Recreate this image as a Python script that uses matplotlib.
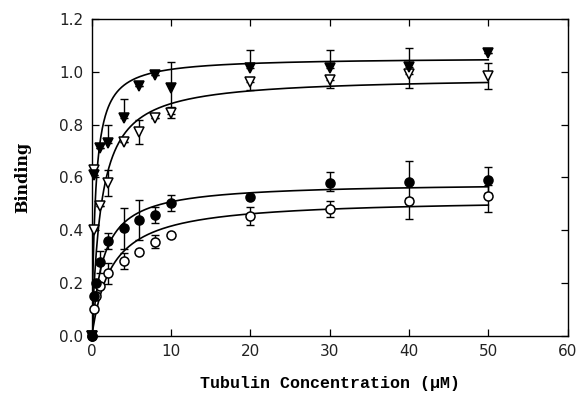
import numpy as np
import matplotlib
matplotlib.use("Agg")
import matplotlib.pyplot as plt

# ---- data ----
x_ft = [0, 0.25, 1, 2, 4, 6, 8, 10, 20, 30, 40, 50]
y_ft = [0, 0.61, 0.71, 0.73, 0.825, 0.946, 0.987, 0.939, 1.014, 1.014, 1.02, 1.07]
lo_ft = [0, 0, 0, 0, 0, 0, 0, 0.10, 0, 0, 0, 0]
hi_ft = [0, 0, 0, 0.07, 0.072, 0, 0, 0.10, 0.07, 0.07, 0.07, 0]

x_ot = [0, 0.25, 0.25, 1, 2, 4, 6, 8, 10, 20, 30, 40, 50]
y_ot = [0, 0.63, 0.40, 0.49, 0.58, 0.735, 0.773, 0.824, 0.845, 0.962, 0.97, 0.99, 0.985]
lo_ot = [0, 0, 0, 0, 0.05, 0, 0.045, 0, 0.02, 0.03, 0.03, 0.05, 0.05]
hi_ot = [0, 0, 0, 0, 0.05, 0, 0.045, 0, 0.02, 0, 0, 0, 0.05]

x_fc = [0, 0.25, 0.5, 1, 2, 4, 6, 8, 10, 20, 30, 40, 50]
y_fc = [0, 0.15, 0.20, 0.28, 0.36, 0.407, 0.439, 0.458, 0.502, 0.527, 0.58, 0.584, 0.59]
lo_fc = [0, 0, 0, 0.04, 0.03, 0.077, 0.075, 0.03, 0.03, 0, 0.03, 0.08, 0.05]
hi_fc = [0, 0, 0, 0.04, 0.03, 0.077, 0.075, 0.03, 0.03, 0, 0.04, 0.08, 0.05]

x_oc = [0, 0.25, 0.5, 1, 2, 4, 6, 8, 10, 20, 30, 40, 50]
y_oc = [0, 0.10, 0.15, 0.19, 0.237, 0.285, 0.319, 0.357, 0.382, 0.454, 0.479, 0.512, 0.53]
lo_oc = [0, 0, 0, 0, 0.04, 0.03, 0, 0.025, 0, 0.035, 0.03, 0.07, 0.06]
hi_oc = [0, 0, 0, 0, 0.04, 0.03, 0, 0.025, 0, 0.035, 0.03, 0.01, 0.04]

# hyperbolic fit parameters (Bmax, Kd)
fit_ft = (1.055, 0.45)
fit_ot = (0.982, 1.16)
fit_fc = (0.581, 1.44)
fit_oc = (0.52, 2.5)

x_ticks = [0, 10, 20, 30, 40, 50, 60]
y_ticks = [0.0, 0.2, 0.4, 0.6, 0.8, 1.0, 1.2]

fig = plt.figure(figsize=(5.78, 3.97), dpi=100)
ax = fig.add_axes([0.159, 0.154, 0.823, 0.798])

xf = np.linspace(0, 50, 800)
for bmax, kd in (fit_ft, fit_ot, fit_fc, fit_oc):
    ax.plot(xf, bmax * xf / (kd + xf), color="black", lw=1.2, zorder=2)

def series(x, y, lo, hi, marker, filled, ms):
    ax.errorbar(x, y, yerr=[lo, hi], fmt="none", ecolor="black",
                elinewidth=1.0, capsize=3, capthick=1.0, zorder=3)
    ax.plot(x, y, linestyle="none", marker=marker, ms=ms, clip_on=False,
            mfc="black" if filled else "white", mec="black", mew=1.1, zorder=4)

series(x_ot, y_ot, lo_ot, hi_ot, "v", False, 7.5)
series(x_ft, y_ft, lo_ft, hi_ft, "v", True, 7.5)
series(x_oc, y_oc, lo_oc, hi_oc, "o", False, 6.5)
series(x_fc, y_fc, lo_fc, hi_fc, "o", True, 6.5)

ax.set_xlim(0, 60)
ax.set_ylim(0, 1.2)
ax.set_xticks(x_ticks)
ax.set_yticks(y_ticks)
ax.set_xticklabels([str(v) for v in x_ticks])
ax.set_yticklabels([f"{v:.1f}" for v in y_ticks])
ax.tick_params(direction="in", length=5, width=0.9, top=True, right=True,
               labelsize=11, pad=6)
for lab in ax.get_xticklabels() + ax.get_yticklabels():
    lab.set_family("DejaVu Sans")
    lab.set_color("#222222")
for s in ax.spines.values():
    s.set_linewidth(1.0)

ax.set_xlabel("Tubulin Concentration (\u03bcM)", family="Liberation Mono",
              fontweight="bold", fontsize=12, labelpad=12)
ax.set_ylabel("Binding", family="DejaVu Serif", fontweight="bold",
              fontsize=11.5, labelpad=20)

fig.savefig("out.png", dpi=100)
